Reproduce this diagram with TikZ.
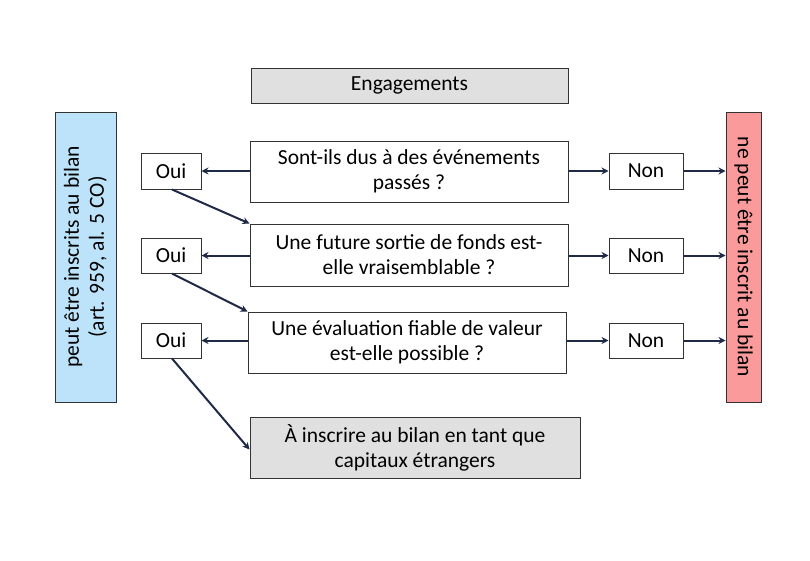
\documentclass[tikz,border=0pt]{standalone}
\usepackage{fontspec}
\setmainfont{Carlito}
\usetikzlibrary{arrows.meta}
\definecolor{arrowc}{HTML}{1F2A44}
\definecolor{grayfill}{HTML}{E0E0E0}
\definecolor{bluefill}{HTML}{BDE3FA}
\definecolor{redfill}{HTML}{FA9A9A}
\begin{document}
\begin{tikzpicture}[x=1pt,y=-1pt,
  txt/.style={font=\fontsize{21.5}{25}\selectfont},
  box/.style={draw=black!80, line width=1pt, inner sep=0pt, align=center, txt},
  conn/.style={draw=arrowc, line width=2pt, -{Stealth[length=7pt,width=7pt]}}]
\useasboundingbox (0,0) rectangle (810,560);
\node[box, fill=grayfill, minimum width=317pt, minimum height=35pt] (eng) at (409.5,85.5) {Engagements};
\node[box, fill=bluefill, minimum width=61pt, minimum height=290pt] (left) at (85.5,257) {};
\node[rotate=90, align=center, txt] (lefttxt) at (85.5,257) {peut être inscrits au bilan\\(art. 959, al. 5 CO)};
\node[box, fill=redfill, minimum width=35pt, minimum height=290pt] (right) at (743.5,257) {};
\node[rotate=-90, txt] (righttxt) at (743.5,257) {ne peut être inscrit au bilan};
\node[box, minimum width=318pt, minimum height=61pt] (q1) at (409,171.5) {Sont-ils dus à des événements\\passés ?};
\node[box, minimum width=318pt, minimum height=62pt] (q2) at (409,255) {Une future sortie de fonds est-\\elle vraisemblable ?};
\node[box, minimum width=318pt, minimum height=61pt] (q3) at (407,342.5) {Une évaluation fiable de valeur\\est-elle possible ?};
\node[box, fill=grayfill, minimum width=330pt, minimum height=61pt] (fin) at (415,447.5) {À inscrire au bilan en tant que\\capitaux étrangers};
\node[box, minimum width=60pt, minimum height=36pt] (oui1) at (171,171) {Oui};
\node[box, minimum width=60pt, minimum height=35pt] (oui2) at (171,255.5) {Oui};
\node[box, minimum width=60pt, minimum height=35pt] (oui3) at (171,340.5) {Oui};
\node[box, minimum width=74pt, minimum height=36pt] (non1) at (646,171) {Non};
\node[box, minimum width=74pt, minimum height=35pt] (non2) at (646,255.5) {Non};
\node[box, minimum width=74pt, minimum height=35pt] (non3) at (646,340.5) {Non};
\draw[conn] (q1.west |- oui1.east) -- (oui1.east);
\draw[conn] (q2.west |- oui2.east) -- (oui2.east);
\draw[conn] (q3.west |- oui3.east) -- (oui3.east);
\draw[conn] (q1.east |- non1.west) -- (non1.west);
\draw[conn] (q2.east |- non2.west) -- (non2.west);
\draw[conn] (q3.east |- non3.west) -- (non3.west);
\draw[conn] (non1.east) -- (right.west |- non1.east);
\draw[conn] (non2.east) -- (right.west |- non2.east);
\draw[conn] (non3.east) -- (right.west |- non3.east);
\draw[conn] ([xshift=1pt]oui1.south) -- (q2.north west);
\draw[conn] ([xshift=1pt]oui2.south) -- (q3.north west);
\draw[conn] ([xshift=1pt]oui3.south) -- ([yshift=-2pt]fin.west);
\end{tikzpicture}
\end{document}
